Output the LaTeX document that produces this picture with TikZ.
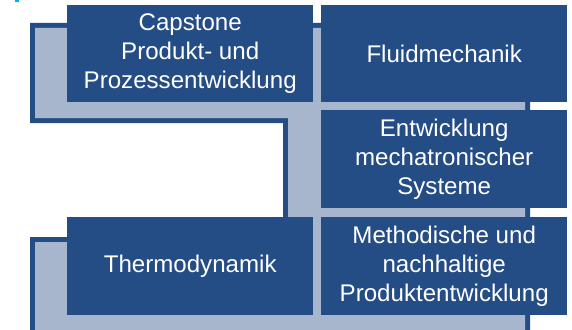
\documentclass[tikz,border=0pt]{standalone}
\usepackage{fontspec}
\setmainfont{Liberation Sans}
\definecolor{boxblue}{RGB}{37,77,133}
\definecolor{frameblue}{RGB}{167,182,205}
\definecolor{accent}{RGB}{0,176,240}
\tikzset{
  topic/.style={fill=boxblue, draw=none, text=white, align=center,
    anchor=north west, inner sep=0pt, minimum width=246pt,
    font=\fontsize{24.1}{29}\selectfont},
}
\begin{document}
\begin{tikzpicture}[x=1pt,y=-1pt]
  \clip (0,0) rectangle (572,329);
  \useasboundingbox (0,0) rectangle (572,329);
  \fill[white] (0,0) rectangle (572,329);
  % small accent mark in the corner
  \fill[accent] (15,0) rectangle (19,2);
  % backing frame: dark rim, light inside
  \fill[boxblue] (30,23) -- (530,23) -- (530,340) -- (30,340) -- (30,237)
    -- (283,237) -- (283,123) -- (30,123) -- cycle;
  \fill[frameblue] (35,28) -- (525,28) -- (525,340) -- (35,340) -- (35,242)
    -- (288,242) -- (288,118) -- (35,118) -- cycle;
  % topic boxes
  \node[topic, minimum height=97pt] (capstone) at (67,5)
    {Capstone\\Produkt- und\\Prozessentwicklung};
  \node[topic, minimum height=97pt] (fluid) at (321,5) {Fluidmechanik};
  \node[topic, minimum height=98pt] (mecha) at (321,110)
    {Entwicklung\\mechatronischer\\Systeme};
  \node[topic, minimum height=98pt] (thermo) at (67,217) {Thermodynamik};
  \node[topic, minimum height=98pt] (method) at (321,217)
    {Methodische und\\nachhaltige\\Produktentwicklung};
\end{tikzpicture}
\end{document}
